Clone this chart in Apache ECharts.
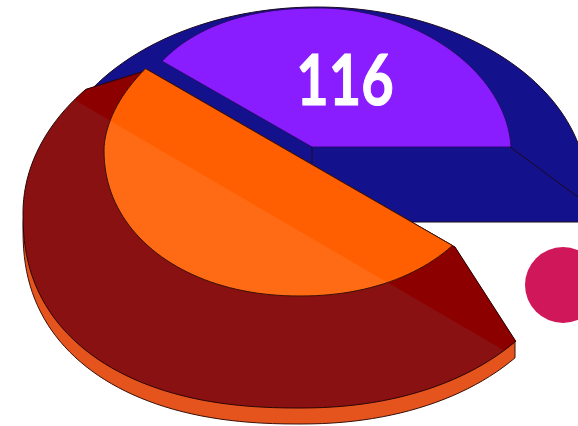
<!DOCTYPE html>
<html><head><meta charset="utf-8">
<style>html,body{margin:0;padding:0;background:#fff}#c{width:578px;height:426px}</style>
<script src="https://cdn.jsdelivr.net/npm/echarts@6/dist/echarts.min.js"></script>
</head><body><div id="c"></div>
<script>
// value
var valueLabels = ['116'];
var valueAnchor = [345, 82];
var dotPoint = [[563, 285]];

// disc outlines: [centre x, centre y, radius x, radius y], and roundness per quadrant [LR, LL, UL, UR]
var discBlue = [317, 190, 270, 183], roundBlue = [2, 2, 2, 2];
var discPurple = [320, 150, 191, 142], roundPurple = [2, 2, 2.25, 1.9];
var discRed = [300, 213, 277, 195], roundRed = [2.12, 2.3, 2, 2];
var discRim = [300, 229, 277, 195];
var discOrange = [300, 150, 196, 146], roundOrange = [2.1, 2.1, 1.8, 2];

// cutting edges (pairs of ends, keep the right-hand side in screen terms)
var cutDiag = [148, 70, 455, 247];
var cutRedTop = [87, 89, 148, 70], cutRedRight = [455, 247, 515, 340];
var cutBlueBase = [600, 222, 0, 222];
var cutPurpleDiag = [312, 147, 160, 60], cutPurpleBase = [600, 147, 0, 147];
var cutBand = [500, 348, 85, 106];
var cutRimTop = [23, 213, 515, 340], cutRimRight = [515, 0, 515, 426];

// seams
var seamBack = [510, 147, 578, 197], seamStep = [312, 147, 312, 163];

function outline(d, n) {
  var pts = [];
  for (var i = 0; i < 360; i += 2) {
    var t = i * Math.PI / 180, c = Math.cos(t), s = Math.sin(t);
    var e = n[c >= 0 ? (s >= 0 ? 0 : 3) : (s >= 0 ? 1 : 2)];
    pts.push([d[0] + d[2] * (c < 0 ? -1 : 1) * Math.pow(Math.abs(c), 2 / e),
              d[1] + d[3] * (s < 0 ? -1 : 1) * Math.pow(Math.abs(s), 2 / e)]);
  }
  return pts;
}
function clip(pts, l) {
  var out = [], side = function (p) { return (l[2] - l[0]) * (p[1] - l[1]) - (l[3] - l[1]) * (p[0] - l[0]); };
  for (var i = 0; i < pts.length; i++) {
    var a = pts[i], b = pts[(i + 1) % pts.length], sa = side(a), sb = side(b);
    if (sa >= 0) out.push(a);
    if ((sa >= 0) !== (sb >= 0)) {
      var k = sa / (sa - sb);
      out.push([a[0] + (b[0] - a[0]) * k, a[1] + (b[1] - a[1]) * k]);
    }
  }
  return out;
}
function cut(d, n, cuts) { return cuts.reduce(clip, outline(d, n)); }

var edge = '#1c0a20';
var red = [cutRedTop, cutDiag, cutRedRight];
var orange = [cutDiag];
var purple = [cutPurpleDiag, cutPurpleBase];
var layers = [
  { p: cut(discBlue, roundBlue, [cutBlueBase]), fill: '#14118C', stroke: edge },
  { p: cut(discPurple, roundPurple, purple), fill: '#8A1DFF', stroke: '#2a0a70' },
  { p: [[seamBack[0], seamBack[1]], [seamBack[2], seamBack[3]]], fill: 'none', stroke: edge, open: true },
  { p: [[seamStep[0], seamStep[1]], [seamStep[2], seamStep[3]]], fill: 'none', stroke: edge, open: true },
  { p: cut(discRim, roundRed, [cutRimTop, cutRimRight]), fill: '#E4541C', stroke: '#3a1008' },
  { p: cut(discRed, roundRed, red), fill: '#8A1111', stroke: null },
  { p: cut(discRed, roundRed, red.concat([cutBand])), fill: '#8C0000', stroke: null },
  { p: cut(discRed, roundRed, red), fill: 'none', stroke: '#2a0505' },
  { p: cut(discOrange, roundOrange, orange), fill: '#FF6A14', stroke: null },
  { p: cut(discOrange, roundOrange, orange.concat([cutBand])), fill: '#FF5F00', stroke: null },
  { p: cut(discOrange, roundOrange, orange), fill: 'none', stroke: '#3a1005' }
];

var chart = echarts.init(document.getElementById('c'), null, { renderer: 'canvas' });
chart.setOption({
  animation: false,
  backgroundColor: '#fff',
  grid: { left: 0, right: 0, top: 0, bottom: 0 },
  xAxis: { type: 'value', min: 0, max: 578, show: false },
  yAxis: { type: 'value', min: 0, max: 426, inverse: true, show: false },
  series: [
    {
      type: 'custom', coordinateSystem: 'cartesian2d', clip: true, silent: true, z: 2,
      data: layers.map(function (l, i) { return [i]; }),
      encode: { x: -1, y: -1 },
      renderItem: function (params, api) {
        var l = layers[api.value(0)];
        var pts = l.p.map(function (q) { return api.coord(q); });
        return {
          type: l.open ? 'polyline' : 'polygon',
          shape: { points: pts },
          style: { fill: l.fill === 'none' ? null : l.fill, stroke: l.stroke, lineWidth: 1 }
        };
      }
    },
    {
      type: 'custom', coordinateSystem: 'cartesian2d', silent: true, z: 3,
      data: valueLabels.map(function (t) { return [valueAnchor[0], valueAnchor[1], t]; }),
      encode: { x: 0, y: 1 },
      renderItem: function (params, api) {
        var c = api.coord([api.value(0), api.value(1)]);
        return {
          type: 'text', x: c[0], y: c[1], scaleX: 0.8, scaleY: 1,
          style: { text: valueLabels[params.dataIndex], fill: '#fff', stroke: '#fff', lineWidth: 1, font: 'bold 70px Lato', textAlign: 'center', textVerticalAlign: 'middle' }
        };
      }
    },
    {
      type: 'scatter', data: dotPoint, symbol: 'circle', symbolSize: 76, silent: true, z: 4,
      itemStyle: { color: '#D0175A', opacity: 1 }
    }
  ]
});
</script></body></html>
